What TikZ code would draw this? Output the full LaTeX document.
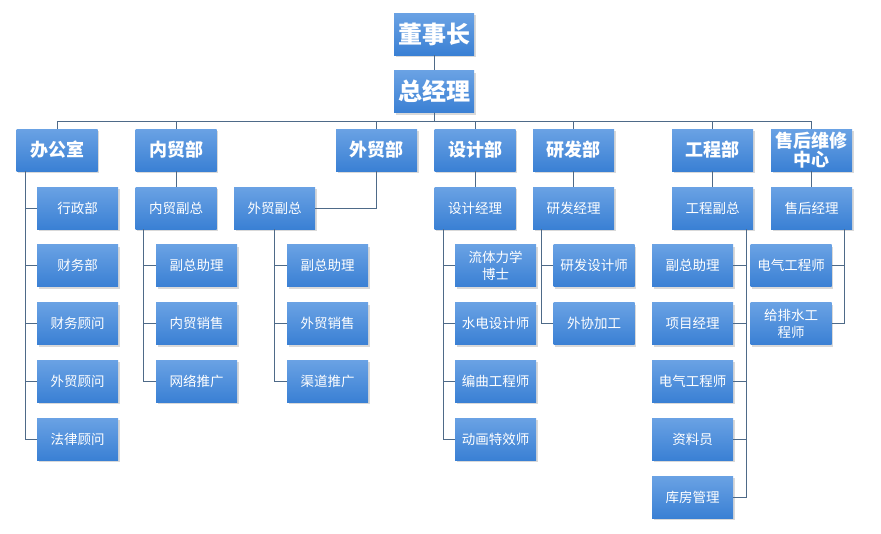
\documentclass[tikz,border=0pt]{standalone}
\usepackage{fontspec}
\newfontfamily\cjk{Noto Sans CJK SC}
\usetikzlibrary{shadows}
\definecolor{boxtop}{RGB}{106,162,228}
\definecolor{boxbot}{RGB}{58,128,212}
\definecolor{linkc}{RGB}{78,106,136}

\begin{document}
\begin{tikzpicture}[x=1pt,y=-1pt,
		box/.style={rectangle,minimum width=81pt,minimum height=42pt,inner sep=1pt,align=center,
			top color=boxtop,bottom color=boxbot,text=white,
			drop shadow={opacity=0.3,shadow xshift=1.5pt,shadow yshift=-2pt},
			font=\cjk\fontsize{13.5}{17}\selectfont},
		topbox/.style={box,minimum width=80pt,font=\cjk\bfseries\fontsize{24}{26}\selectfont},
		dept/.style={box,font=\cjk\bfseries\fontsize{18}{18.5}\selectfont},
		link/.style={draw=linkc,line width=0.9pt}]
			\useasboundingbox(0,0)rectangle(881,533);
			% top
			\node[topbox](D0)at(434,34){董事长};
			\node[topbox](D1)at(434,91.5){总经理};
			% departments
			\node[dept](B1)at(57,150){办公室};
			\node[dept](B2)at(176,150){内贸部};
			\node[dept](B3)at(376.5,150){外贸部};
			\node[dept](B4)at(475,150){设计部};
			\node[dept](B5)at(573.5,150){研发部};
			\node[dept](B6)at(712.5,150){工程部};
			\node[dept](B7)at(811.5,150){售后维修\\中心};
			% office
			\node[box](O1)at(77.5,208){行政部};
			\node[box](O2)at(77.5,265.5){财务部};
			\node[box](O3)at(77.5,323.5){财务顾问};
			\node[box](O4)at(77.5,381){外贸顾问};
			\node[box](O5)at(77.5,439){法律顾问};
			% domestic trade
			\node[box](N0)at(176,208){内贸副总};
			\node[box](N1)at(196.5,265.5){副总助理};
			\node[box](N2)at(196.5,323.5){内贸销售};
			\node[box](N3)at(196.5,381){网络推广};
			% foreign trade
			\node[box](W0)at(274.5,208){外贸副总};
			\node[box](W1)at(327.5,265.5){副总助理};
			\node[box](W2)at(327.5,323.5){外贸销售};
			\node[box](W3)at(327.5,381){渠道推广};
			% design
			\node[box](S0)at(475,208){设计经理};
			\node[box](S1)at(495.5,265.5){流体力学\\博士};
			\node[box](S2)at(495.5,323.5){水电设计师};
			\node[box](S3)at(495.5,381){编曲工程师};
			\node[box](S4)at(495.5,439){动画特效师};
			% research
			\node[box](Y0)at(573.5,208){研发经理};
			\node[box](Y1)at(594,265.5){研发设计师};
			\node[box](Y2)at(594,323.5){外协加工};
			% engineering
			\node[box](G0)at(712.5,208){工程副总};
			\node[box](G1)at(692.5,265.5){副总助理};
			\node[box](G2)at(692.5,323.5){项目经理};
			\node[box](G3)at(692.5,381){电气工程师};
			\node[box](G4)at(692.5,439){资料员};
			\node[box](G5)at(692.5,497){库房管理};
			% after sales
			\node[box](H0)at(811.5,208){售后经理};
			\node[box](H1)at(791,265.5){电气工程师};
			\node[box](H2)at(791,323.5){给排水工\\程师};
			% links
			\draw[link](D0)--(D1);
			\draw[link](D1.south)--++(0,9)-|(B1.north);
			\draw[link](D1.south)--++(0,9)-|(B2.north);
			\draw[link](D1.south)--++(0,9)-|(B3.north);
			\draw[link](D1.south)--++(0,9)-|(B4.north);
			\draw[link](D1.south)--++(0,9)-|(B5.north);
			\draw[link](D1.south)--++(0,9)-|(B6.north);
			\draw[link](D1.south)--++(0,9)-|(B7.north);
			\draw[link]([xshift=9pt]B1.south west)|-(O1.west);
			\draw[link]([xshift=9pt]B1.south west)|-(O2.west);
			\draw[link]([xshift=9pt]B1.south west)|-(O3.west);
			\draw[link]([xshift=9pt]B1.south west)|-(O4.west);
			\draw[link]([xshift=9pt]B1.south west)|-(O5.west);
			\draw[link](B2)--(N0);
			\draw[link]([xshift=8pt]N0.south west)|-(N1.west);
			\draw[link]([xshift=8pt]N0.south west)|-(N2.west);
			\draw[link]([xshift=8pt]N0.south west)|-(N3.west);
			\draw[link](B3.south)|-(W0.east);
			\draw[link](W0.south)|-(W1.west);
			\draw[link](W0.south)|-(W2.west);
			\draw[link](W0.south)|-(W3.west);
			\draw[link](B4)--(S0);
			\draw[link]([xshift=9pt]S0.south west)|-(S1.west);
			\draw[link]([xshift=9pt]S0.south west)|-(S2.west);
			\draw[link]([xshift=9pt]S0.south west)|-(S3.west);
			\draw[link]([xshift=9pt]S0.south west)|-(S4.west);
			\draw[link](B5)--(Y0);
			\draw[link]([xshift=9pt]Y0.south west)|-(Y1.west);
			\draw[link]([xshift=9pt]Y0.south west)|-(Y2.west);
			\draw[link](B6)--(G0);
			\draw[link]([xshift=-7pt]G0.south east)|-(G1.east);
			\draw[link]([xshift=-7pt]G0.south east)|-(G2.east);
			\draw[link]([xshift=-7pt]G0.south east)|-(G3.east);
			\draw[link]([xshift=-7pt]G0.south east)|-(G4.east);
			\draw[link]([xshift=-7pt]G0.south east)|-(G5.east);
			\draw[link](B7)--(H0);
			\draw[link]([xshift=-8pt]H0.south east)|-(H1.east);
			\draw[link]([xshift=-8pt]H0.south east)|-(H2.east);
		\end{tikzpicture}
\end{document}
